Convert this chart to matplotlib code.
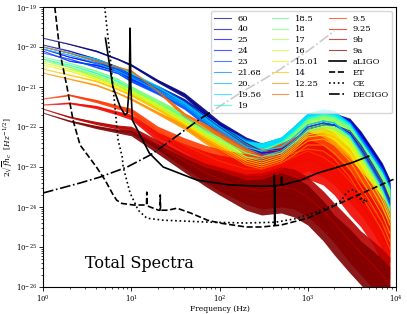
import numpy as np
import matplotlib
matplotlib.use("Agg")
import matplotlib.pyplot as plt
from matplotlib import cm

plt.rcParams["font.family"] = "DejaVu Serif"
plt.rcParams["mathtext.fontset"] = "dejavuserif"

# shared frequency grid (Hz) for the spectra
freq = [1, 2, 4, 7, 10, 20, 40, 70, 100, 200, 300, 500, 700, 1000,
        1500, 2000, 3000, 4000, 5500, 7000, 8500]

labels = ["60", "40", "25", "24", "23", "21.68", "20.", "19.56", "19",
          "18.5", "18", "17", "16", "15.01", "14", "12.25", "11",
          "9.5", "9.25", "9b", "9a"]

# log10 of 2 sqrt(f) h_c, band centre
spectra_log = {
    "60":    [-19.78, -19.93, -20.10, -20.30, -20.45, -20.85, -21.20, -21.65, -21.95, -22.40, -22.60,
              -22.55, -22.35, -22.05, -21.95, -21.95, -22.10, -22.45, -22.95, -23.35, -23.80],
    "40":    [-19.95, -20.10, -20.30, -20.50, -20.70, -21.00, -21.35, -21.75, -22.00, -22.45, -22.65,
              -22.60, -22.35, -22.05, -21.95, -21.95, -22.15, -22.50, -23.00, -23.40, -23.85],
    "25":    [-20.05, -20.25, -20.40, -20.55, -20.75, -21.05, -21.40, -21.80, -22.05, -22.50, -22.65,
              -22.60, -22.35, -22.00, -21.90, -21.95, -22.15, -22.55, -23.05, -23.45, -23.90],
    "24":    [-20.10, -20.35, -20.45, -20.60, -20.80, -21.10, -21.45, -21.85, -22.10, -22.50, -22.65,
              -22.60, -22.35, -22.00, -21.90, -21.95, -22.15, -22.55, -23.05, -23.45, -23.90],
    "23":    [-20.15, -20.30, -20.50, -20.65, -20.85, -21.15, -21.50, -21.90, -22.15, -22.55, -22.70,
              -22.60, -22.35, -22.00, -21.90, -21.95, -22.20, -22.60, -23.10, -23.50, -23.95],
    "21.68": [-20.00, -20.15, -20.35, -20.55, -20.70, -21.05, -21.40, -21.80, -22.05, -22.45, -22.60,
              -22.50, -22.25, -21.95, -21.85, -21.90, -22.20, -22.60, -23.10, -23.50, -23.95],
    "20.":   [-20.05, -20.20, -20.40, -20.60, -20.75, -21.10, -21.45, -21.85, -22.10, -22.50, -22.60,
              -22.50, -22.25, -21.95, -21.85, -21.90, -22.20, -22.65, -23.15, -23.55, -24.00],
    "19.56": [-20.00, -20.15, -20.30, -20.50, -20.65, -21.00, -21.40, -21.80, -22.05, -22.50, -22.60,
              -22.50, -22.25, -21.95, -21.85, -21.90, -22.25, -22.70, -23.20, -23.60, -24.05],
    "19":    [-20.30, -20.45, -20.65, -20.85, -21.05, -21.40, -21.75, -22.10, -22.30, -22.65, -22.75,
              -22.60, -22.35, -22.05, -21.95, -22.00, -22.25, -22.70, -23.20, -23.60, -24.05],
    "18.5":  [-20.30, -20.50, -20.75, -20.95, -21.15, -21.50, -21.85, -22.20, -22.40, -22.75, -22.80,
              -22.65, -22.40, -22.10, -22.00, -22.05, -22.30, -22.70, -23.20, -23.60, -24.05],
    "18":    [-20.25, -20.40, -20.60, -20.80, -21.00, -21.35, -21.70, -22.05, -22.30, -22.65, -22.75,
              -22.65, -22.40, -22.10, -22.00, -22.05, -22.30, -22.75, -23.25, -23.65, -24.10],
    "17":    [-20.35, -20.50, -20.70, -20.90, -21.05, -21.40, -21.80, -22.15, -22.35, -22.75, -22.85,
              -22.70, -22.45, -22.15, -22.05, -22.10, -22.40, -22.85, -23.35, -23.75, -24.20],
    "16":    [-20.40, -20.55, -20.75, -20.95, -21.10, -21.45, -21.85, -22.20, -22.40, -22.80, -22.90,
              -22.75, -22.50, -22.20, -22.10, -22.20, -22.50, -22.95, -23.45, -23.85, -24.30],
    "15.01": [-20.45, -20.60, -20.80, -21.00, -21.15, -21.50, -21.90, -22.25, -22.45, -22.85, -22.95,
              -22.80, -22.55, -22.25, -22.20, -22.30, -22.65, -23.10, -23.60, -24.00, -24.45],
    "14":    [-20.55, -20.70, -20.85, -21.05, -21.20, -21.55, -21.95, -22.30, -22.50, -22.90, -23.00,
              -22.85, -22.60, -22.35, -22.30, -22.45, -22.85, -23.30, -23.80, -24.20, -24.65],
    "12.25": [-20.65, -20.80, -20.95, -21.15, -21.30, -21.65, -22.00, -22.35, -22.55, -22.95, -23.05,
              -22.90, -22.70, -22.45, -22.45, -22.65, -23.05, -23.50, -24.00, -24.40, -24.85],
    "11":    [-20.00, -20.15, -20.35, -20.50, -20.60, -21.10, -21.70, -22.00, -22.15, -22.55, -22.75,
              -22.75, -22.65, -22.55, -22.60, -22.80, -23.25, -23.70, -24.20, -24.60, -25.05],
    "9.5":   [-21.30, -21.20, -21.35, -21.50, -21.60, -22.10, -22.45, -22.70, -22.85, -23.05, -23.05,
              -22.90, -22.75, -22.60, -22.75, -22.95, -23.35, -23.65, -24.05, -24.40, -24.70],
    "9.25":  [-21.45, -21.40, -21.50, -21.65, -21.75, -22.25, -22.60, -22.85, -23.00, -23.20, -23.20,
              -23.05, -22.90, -22.80, -22.95, -23.20, -23.65, -23.95, -24.35, -24.75, -25.10],
    "9b":    [-21.55, -21.75, -21.90, -22.00, -22.05, -22.45, -22.85, -23.15, -23.30, -23.55, -23.60,
              -23.50, -23.55, -23.75, -24.10, -24.40, -24.85, -25.15, -25.45, -25.70, -25.95],
    "9a":    [-21.65, -21.85, -22.00, -22.10, -22.15, -22.55, -22.95, -23.25, -23.40, -23.70, -23.75,
              -23.65, -23.75, -23.95, -24.35, -24.70, -25.10, -25.40, -25.70, -25.95, -26.20],
}

# half-width of the noisy band (decades), upper spectra and the 9.x ones
spread_upper = [0.00, 0.01, 0.02, 0.02, 0.03, 0.04, 0.06, 0.08, 0.10, 0.15, 0.20,
                0.25, 0.28, 0.30, 0.30, 0.30, 0.32, 0.35, 0.40, 0.45, 0.50]
spread_red = [0.00, 0.02, 0.04, 0.05, 0.07, 0.12, 0.18, 0.24, 0.30, 0.38, 0.45,
              0.50, 0.50, 0.50, 0.50, 0.50, 0.55, 0.55, 0.60, 0.65, 0.70]

# detector sensitivity curves (log10)
aligo_f = [5.1, 6.2, 7.5, 8.5, 9.0, 9.5, 9.7, 9.9, 10.3, 12.6, 16, 23, 56, 133, 290,
           415, 418, 422, 425, 500, 505, 510, 830, 1300, 2000, 3100, 4900]
aligo_h = [-19.78, -21.0, -21.5, -21.7, -21.65, -21.0, -19.53, -21.0, -21.83, -22.2, -22.65,
           -23.0, -23.33, -23.45, -23.48, -23.47, -23.2, -24.45, -23.47, -23.45, -23.25,
           -23.45, -23.33, -23.15, -23.03, -22.9, -22.73]

et_f = [1.36, 1.56, 1.87, 2.19, 2.63, 4.0, 5.06, 6.25, 6.84, 7.8, 10.6, 14.4, 14.9, 15.0,
        15.1, 20.4, 21.2, 21.3, 21.5, 26, 33, 47, 73, 100, 200, 300, 500, 1000, 1400, 3300, 10000]
et_h = [-19.0, -20.15, -21.0, -21.83, -22.45, -22.99, -23.33, -23.7, -23.83, -23.91, -23.95,
        -23.95, -23.95, -23.63, -23.97, -24.08, -24.08, -23.7, -24.08, -24.08, -24.03, -24.15,
        -24.33, -24.4, -24.5, -24.5, -24.45, -24.28, -24.13, -23.75, -23.28]

ce_f = [5.0, 5.8, 6.6, 7.1, 7.9, 8.1, 9.7, 12, 15, 23, 79, 200, 430, 700, 1000, 1400,
        2000, 2400, 2810, 3320, 3650, 3970, 4350, 4740, 4170, 3600]
ce_h = [-19.0, -20.3, -21.6, -22.33, -22.75, -23.0, -23.65, -24.08, -24.28, -24.33, -24.38,
        -24.4, -24.38, -24.3, -24.2, -24.08, -23.95, -23.83, -23.62, -23.56, -23.64, -23.74,
        -23.91, -23.83, -23.83, -23.75]

decigo_f = [1, 2.63, 4.45, 9.0, 16.4, 25.6, 60, 172, 294, 455, 1000, 2000]
decigo_h = [-23.65, -23.4, -23.25, -23.0, -22.7, -22.4, -21.8, -21.15, -20.85, -20.6, -20.1, -19.6]


fig = plt.figure(figsize=(4.07, 3.14), dpi=100)
ax = fig.add_axes([43 / 407, 27 / 314, 353 / 407, 280 / 314])

colors = cm.jet(np.linspace(0, 1, len(labels)))
f = np.array(freq)
for i, lab in enumerate(labels):
    c = np.array(spectra_log[lab])
    w = np.array(spread_red if lab.startswith("9") else spread_upper)
    ax.fill_between(f, 10 ** (c - w), 10 ** (c + w), color=colors[i], alpha=0.9, lw=0)
    ax.plot(f, 10 ** c, color=colors[i], alpha=0.7, lw=0.8, label=lab)

ax.plot(aligo_f, 10 ** np.array(aligo_h), color="k", lw=1.2, label="aLIGO")
ax.plot(et_f, 10 ** np.array(et_h), color="k", lw=1.2, ls="--", label="ET")
ax.plot(ce_f, 10 ** np.array(ce_h), color="k", lw=1.2, ls=":", label="CE")
ax.plot(decigo_f, 10 ** np.array(decigo_h), color="k", lw=1.2, ls="-.", label="DECIGO")

ax.set_xscale("log")
ax.set_yscale("log")
ax.set_xlim(1, 1e4)
ax.set_ylim(1e-26, 1e-19)
ax.tick_params(which="major", labelsize=5, length=3, width=0.6, pad=1.5)
ax.tick_params(which="minor", length=1.5, width=0.5)
for s in ax.spines.values():
    s.set_linewidth(0.8)

ax.set_xlabel("Frequency (Hz)", fontsize=5.5)
ax.set_ylabel(r"$2\sqrt{f}h_c$  $[Hz^{-1/2}]$", fontsize=5.5)
ax.xaxis.set_label_coords(0.5, -0.066)
ax.yaxis.set_label_coords(-0.079, 0.5)
ax.text(0.12, 0.068, "Total Spectra", transform=ax.transAxes, fontsize=11.5, va="baseline")

ax.legend(loc="upper right", ncol=3, fontsize=6, labelspacing=0.35,
          columnspacing=1.2, handlelength=2.0, framealpha=0.8)

fig.savefig("out.png", dpi=100)
